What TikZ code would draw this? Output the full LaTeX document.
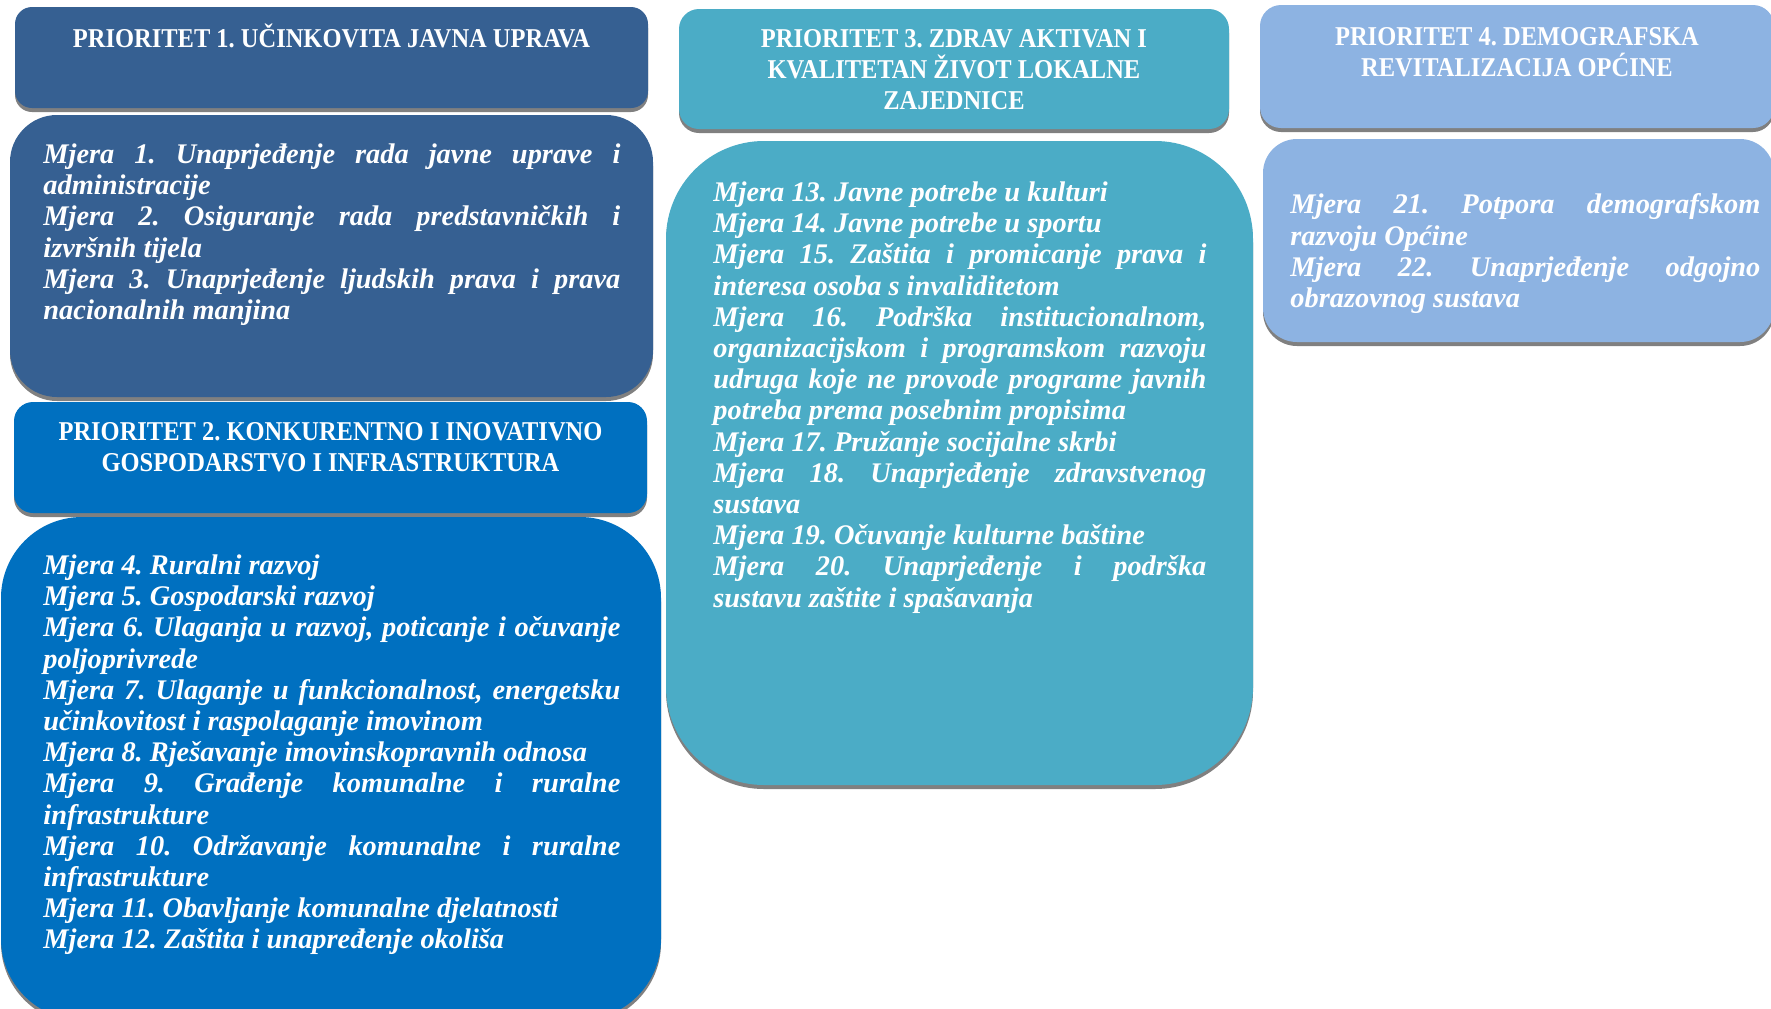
\documentclass[tikz,border=0pt]{standalone}
\usepackage{fontspec}
\setmainfont{Liberation Serif}
\newfontfamily\hdrfont[FakeStretch=0.9]{Liberation Serif}
\newfontfamily\msrfont{Liberation Serif}
\usetikzlibrary{shadows}
\definecolor{cone}{RGB}{54,96,146}
\definecolor{ctwo}{RGB}{0,112,192}
\definecolor{cthree}{RGB}{75,172,198}
\definecolor{cfour}{RGB}{141,179,226}
\frenchspacing
\hyphenpenalty=10000
\exhyphenpenalty=10000
\tolerance=10000
\hbadness=10000
\newcommand\mytightlines{\lineskiplimit=-100pt\relax\lineskip=0pt\relax}
\tikzset{
  pbox/.style={rounded corners=#1, inner sep=0pt, outer sep=0pt, anchor=north west, draw=none,
    drop shadow={shadow xshift=0pt, shadow yshift=-2pt, fill=black!50, opacity=1}},
  hdr/.style={anchor=north, inner sep=0pt, text=white, align=center,
    font=\hdrfont\bfseries\fontsize{13.6pt}{15.5pt}\selectfont\mytightlines},
  msr/.style={anchor=north west, inner sep=0pt, text=white, align=justify,
    font=\msrfont\bfseries\itshape\fontsize{14.2pt}{15.6pt}\selectfont\frenchspacing\mytightlines},
}
\begin{document}
\begin{tikzpicture}[x=0.5pt,y=-0.5pt]
\useasboundingbox (0,0) rectangle (1771,1008);
\clip (0,0) rectangle (1771,1008);

% Priority 1
\node[pbox=8.5pt, fill=cone, minimum width=316.5pt, minimum height=50.5pt] (h1) at (15,7) {};
\node[pbox=23.5pt, fill=cone, minimum width=321.5pt, minimum height=141pt] (b1) at (10,115) {};
% Priority 2
\node[pbox=9.5pt, fill=ctwo, minimum width=316.5pt, minimum height=55.5pt] (h2) at (14,402) {};
\node[pbox=40.5pt, fill=ctwo, minimum width=330pt, minimum height=251.5pt] (b2) at (1,517) {};
% Priority 3
\node[pbox=10pt, fill=cthree, minimum width=275pt, minimum height=60pt] (h3) at (679,9) {};
\node[pbox=49pt, fill=cthree, minimum width=293.5pt, minimum height=322pt] (b3) at (666,141) {};
% Priority 4
\node[pbox=10.5pt, fill=cfour, minimum width=257pt, minimum height=61.5pt] (h4) at (1260,5) {};
\node[pbox=17pt, fill=cfour, minimum width=255.5pt, minimum height=101.5pt] (b4) at (1263,139) {};

% Headers
\node[hdr] (t1) at (331.5,23.3) {\strut PRIORITET 1. UČINKOVITA JAVNA UPRAVA};
\node[hdr] (t2) at (330.5,418.3) {\strut PRIORITET 2. KONKURENTNO I INOVATIVNO\\\strut GOSPODARSTVO I INFRASTRUKTURA};
\node[hdr] (t3) at (954,25.3) {\strut PRIORITET 3. ZDRAV AKTIVAN I\\\strut KVALITETAN ŽIVOT LOKALNE\\\strut ZAJEDNICE};
\node[hdr] (t4) at (1517,23.3) {\strut PRIORITET 4. DEMOGRAFSKA\\\strut REVITALIZACIJA OPĆINE};

% Measures
\node[msr, text width=288.5pt] (m1) at (43,141.2) {\strut Mjera 1. Unaprjeđenje rada javne uprave i\linebreak administracije\par
Mjera 2. Osiguranje rada predstavničkih i\linebreak izvršnih tijela\par
Mjera 3. Unaprjeđenje ljudskih prava i prava\linebreak nacionalnih manjina};

\node[msr, text width=288.5pt] (m2) at (43,552.2) {\strut Mjera 4. Ruralni razvoj\par
Mjera 5. Gospodarski razvoj\par
Mjera 6. Ulaganja u razvoj, poticanje i očuvanje\linebreak poljoprivrede\par
Mjera 7. Ulaganje u funkcionalnost, energetsku\linebreak učinkovitost i raspolaganje imovinom\par
Mjera 8. Rješavanje imovinskopravnih odnosa\par
Mjera 9. Građenje komunalne i ruralne\linebreak infrastrukture\par
Mjera 10. Održavanje komunalne i ruralne\linebreak infrastrukture\par
Mjera 11. Obavljanje komunalne djelatnosti\par
Mjera 12. Zaštita i unapređenje okoliša};

\node[msr, text width=246.5pt] (m3) at (713,179.2) {\strut Mjera 13. Javne potrebe u kulturi\par
Mjera 14. Javne potrebe u sportu\par
Mjera 15. Zaštita i promicanje prava i\linebreak interesa osoba s invaliditetom\par
Mjera 16. Podrška institucionalnom,\linebreak organizacijskom i programskom razvoju\linebreak udruga koje ne provode programe javnih\linebreak potreba prema posebnim propisima\par
Mjera 17. Pružanje socijalne skrbi\par
Mjera 18. Unaprjeđenje zdravstvenog\linebreak sustava\par
Mjera 19. Očuvanje kulturne baštine\par
Mjera 20. Unaprjeđenje i podrška\linebreak sustavu zaštite i spašavanja};

\node[msr, text width=235pt] (m4) at (1290,191.7) {\strut Mjera 21. Potpora demografskom\linebreak razvoju Općine\par
Mjera 22. Unaprjeđenje odgojno\linebreak obrazovnog sustava};
\end{tikzpicture}
\end{document}
